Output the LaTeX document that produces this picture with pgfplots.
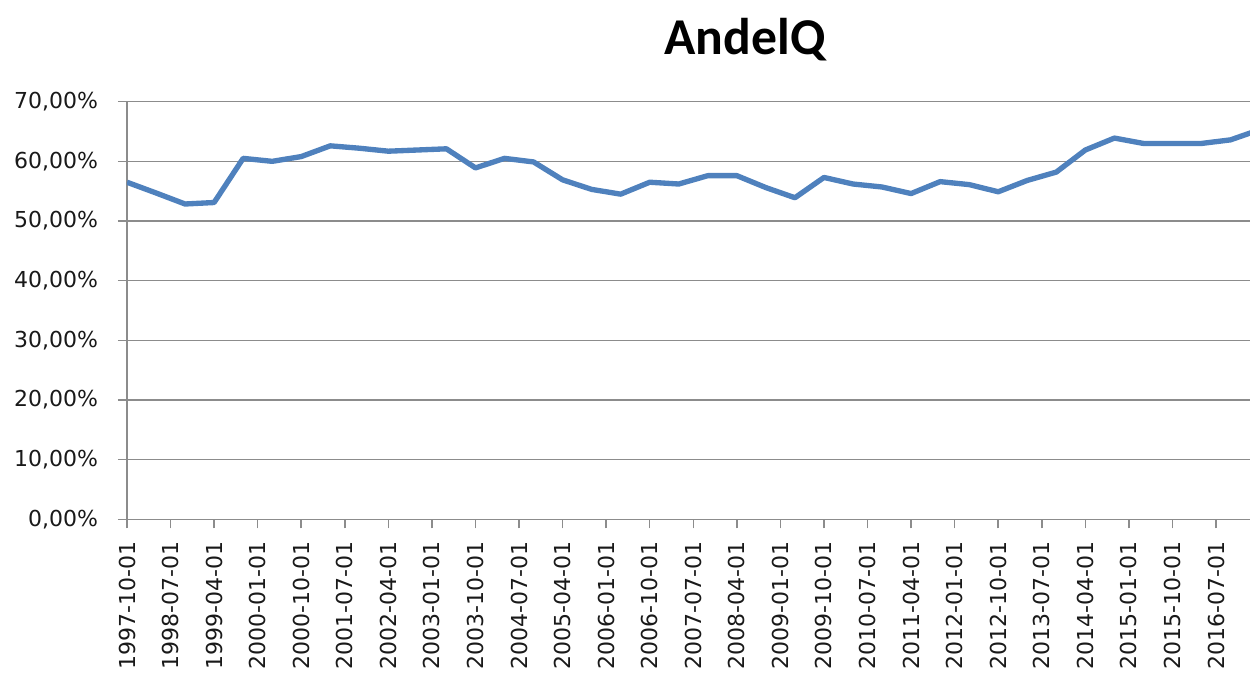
\documentclass[border=0pt]{standalone}
\usepackage{fontspec}
\setmainfont{DejaVu Sans}
\newfontfamily\titlefont{Carlito}
\usepackage{pgfplots}
\pgfplotsset{compat=1.18}
\definecolor{excelblue}{HTML}{4F81BD}
\definecolor{gridgray}{HTML}{8C8C8C}
\begin{document}
\begin{tikzpicture}
\useasboundingbox (-76.2pt,-92.2pt) rectangle (673.8pt,311.6pt);
\begin{axis}[
  at={(0pt,0pt)}, anchor=south west,
  scale only axis,
  width=673.8pt, height=250.6pt,
  xmin=0, xmax=77.34,
  ymin=0, ymax=70,
  axis x line*=bottom, axis y line*=left,
  axis line style={draw=gridgray, line width=0.9pt, -},
  ymajorgrids,
  major grid style={draw=gridgray, line width=0.9pt},
  tick align=outside,
  major tick length=5.4pt,
  tick style={draw=gridgray, line width=0.9pt},
  xtick={0,3,...,75},
  xticklabels={1997-10-01,1998-07-01,1999-04-01,2000-01-01,2000-10-01,2001-07-01,2002-04-01,2003-01-01,2003-10-01,2004-07-01,2005-04-01,2006-01-01,2006-10-01,2007-07-01,2008-04-01,2009-01-01,2009-10-01,2010-07-01,2011-04-01,2012-01-01,2012-10-01,2013-07-01,2014-04-01,2015-01-01,2015-10-01,2016-07-01},
  ytick={0,10,...,70},
  yticklabels={{0,00\%},{10,00\%},{20,00\%},{30,00\%},{40,00\%},{50,00\%},{60,00\%},{70,00\%}},
  xticklabel shift=4.5pt,
  yticklabel shift=8.4pt,
  xticklabel style={rotate=90, anchor=east, font=\fontsize{13.2pt}{15pt}\selectfont, text=black!90},
  yticklabel style={font=\fontsize{13.2pt}{15pt}\selectfont, text=black!90},
  title={\titlefont\bfseries AndelQ},
  title style={at={(axis description cs:0.5503,1.124)}, anchor=center, font=\fontsize{31pt}{36pt}\selectfont},
  /pgf/number format/assume math mode=true,
]
\addplot[excelblue, line width=3.2pt, line join=round, no marks] coordinates {
(0,56.5) (2,54.7) (4,52.85) (6,53.1) (8,60.5) (10,60.0) (12,60.8) (14,62.6)
(16,62.2) (18,61.7) (20,61.9) (22,62.1) (24,58.9) (26,60.5) (28,59.9) (30,56.9)
(32,55.3) (34,54.5) (36,56.5) (38,56.2) (40,57.6) (42,57.6) (44,55.6) (46,53.9)
(48,57.3) (50,56.2) (52,55.7) (54,54.6) (56,56.6) (58,56.1) (60,54.9) (62,56.8)
(64,58.2) (66,61.9) (68,63.9) (70,63.0) (72,63.0) (74,63.0) (76,63.6) (78,65.3)
};
\end{axis}
\end{tikzpicture}
\end{document}
